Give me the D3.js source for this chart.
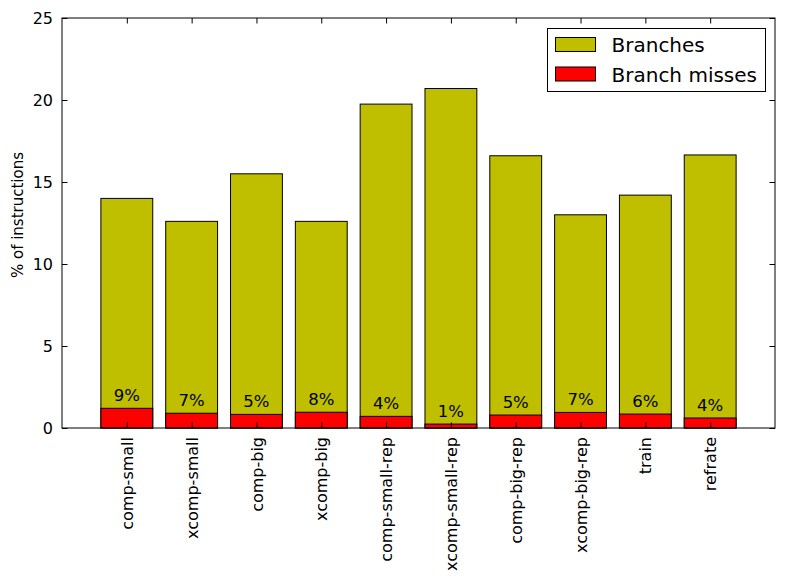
<!DOCTYPE html>
<html>
<head>
<meta charset="utf-8">
<script src="https://cdn.jsdelivr.net/npm/d3@7"></script>
<style>
  body { margin: 0; background: #fff; }
  text { font-family: "DejaVu Sans", sans-serif; }
</style>
</head>
<body>
<svg id="chart" width="785" height="583"></svg>
<script>
var categories = ['comp-small', 'xcomp-small', 'comp-big', 'xcomp-big', 'comp-small-rep',
                  'xcomp-small-rep', 'comp-big-rep', 'xcomp-big-rep', 'train', 'refrate']
var branches = [14.0, 12.6, 15.5, 12.6, 19.75, 20.7, 16.6, 13.0, 14.2, 16.65]
var misses = [1.2, 0.9, 0.83, 0.96, 0.71, 0.24, 0.79, 0.95, 0.85, 0.61]
var missLabels = ['9%', '7%', '5%', '8%', '4%', '1%', '5%', '7%', '6%', '4%']
var yTicks = [0, 5, 10, 15, 20, 25]

var svg = d3.select('#chart'),
    plotL = 62, plotR = 775, plotT = 18, plotB = 428,
    tick = 5.5

var x = d3.scaleLinear().domain([-1, 10]).range([plotL, plotR])
var y = d3.scaleLinear().domain([0, 25]).range([plotB, plotT])
var bw = x(0.8) - x(0)

// bars
var g = svg.append('g')
g.selectAll('rect.br').data(branches).join('rect')
    .attr('x', (d, i) => x(i) - bw / 2)
    .attr('y', d => y(d))
    .attr('width', bw)
    .attr('height', d => y(0) - y(d))
    .attr('fill', '#bfbf00')
    .attr('stroke', '#000')
    .attr('stroke-width', 1)

g.selectAll('rect.ms').data(misses).join('rect')
    .attr('x', (d, i) => x(i) - bw / 2)
    .attr('y', d => y(d))
    .attr('width', bw)
    .attr('height', d => y(0) - y(d))
    .attr('fill', '#ff0000')
    .attr('stroke', '#000')
    .attr('stroke-width', 1)

g.selectAll('text.pct').data(misses).join('text')
    .attr('x', (d, i) => x(i))
    .attr('y', d => y(d) - 7)
    .attr('text-anchor', 'middle')
    .attr('font-size', 16.5)
    .text((d, i) => missLabels[i])

// axes with inward ticks on all four sides
var yLeft = d3.axisLeft(y).tickValues(yTicks).tickSizeInner(-tick).tickSizeOuter(0).tickPadding(9)
var yRight = d3.axisRight(y).tickValues(yTicks).tickSizeInner(-tick).tickSizeOuter(0).tickFormat('')
var idx = d3.range(categories.length)
var xBottom = d3.axisBottom(x).tickValues(idx).tickSizeInner(-tick).tickSizeOuter(0).tickFormat(i => categories[i])
var xTop = d3.axisTop(x).tickValues(idx).tickSizeInner(-tick).tickSizeOuter(0).tickFormat('')

svg.append('g').attr('transform', 'translate(' + plotL + ',0)').call(yLeft)
    .call(a => a.selectAll('text').attr('font-size', 16).attr('fill', '#000'))
svg.append('g').attr('transform', 'translate(' + plotR + ',0)').call(yRight)
svg.append('g').attr('transform', 'translate(0,' + plotT + ')').call(xTop)
svg.append('g').attr('transform', 'translate(0,' + plotB + ')').call(xBottom)
    .call(a => a.selectAll('text')
        .attr('font-size', 16).attr('fill', '#000')
        .attr('transform', 'rotate(-90)')
        .attr('text-anchor', 'end')
        .attr('x', -9).attr('y', 0).attr('dy', '0.35em'))

svg.selectAll('.domain').remove()
svg.selectAll('.tick line').attr('stroke', '#000')
svg.append('rect')
    .attr('x', plotL).attr('y', plotT)
    .attr('width', plotR - plotL).attr('height', plotB - plotT)
    .attr('fill', 'none').attr('stroke', '#000').attr('stroke-width', 1)

svg.append('text')
    .attr('transform', 'translate(23,215) rotate(-90)')
    .attr('text-anchor', 'middle')
    .attr('font-size', 15)
    .text('% of instructions')

// legend
var legend = svg.append('g').attr('transform', 'translate(547.5,28.5)')
legend.append('rect').attr('width', 218).attr('height', 63)
    .attr('fill', '#fff').attr('stroke', '#000')
var items = [['Branches', '#bfbf00'], ['Branch misses', '#ff0000']]
items.forEach(function (it, i) {
    legend.append('rect')
        .attr('x', 8).attr('y', 9 + i * 29.5).attr('width', 40).attr('height', 14)
        .attr('fill', it[1]).attr('stroke', '#000')
    legend.append('text')
        .attr('x', 64).attr('y', 16.5 + i * 29.5).attr('dy', '0.35em')
        .attr('font-size', 20)
        .text(it[0])
})
</script>
</body>
</html>
